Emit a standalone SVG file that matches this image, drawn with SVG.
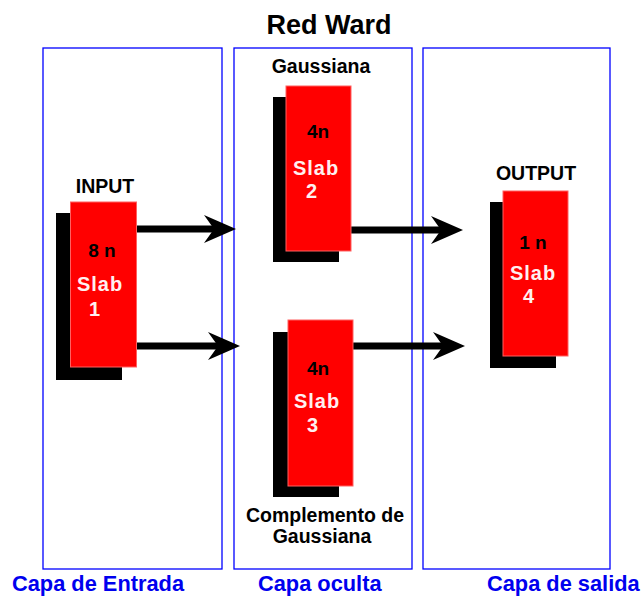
<svg xmlns="http://www.w3.org/2000/svg" width="642" height="597" viewBox="0 0 642 597">
<defs>
<style>
.panel{fill:none;stroke:#0000ff;stroke-width:1.3}
.shadow{fill:#000}
.slab{fill:#ff0000;stroke:#ff6060;stroke-width:1}
.lbl{font-family:"Liberation Sans",Arial,sans-serif;font-weight:bold;font-size:19.5px;fill:#000;text-anchor:middle}
.n{font-family:"Liberation Sans",Arial,sans-serif;font-weight:bold;font-size:19px;fill:#000;text-anchor:middle}
.sl{font-family:"Liberation Sans",Arial,sans-serif;font-weight:bold;font-size:20px;fill:#fff0f0;text-anchor:middle;letter-spacing:1px}
.cap{font-family:"Liberation Sans",Arial,sans-serif;font-weight:bold;font-size:21.8px;fill:#0000ee}
.title{font-family:"Liberation Sans",Arial,sans-serif;font-weight:bold;font-size:27px;fill:#000;text-anchor:middle}
.arrow{fill:none;stroke:#000;stroke-width:7;marker-end:url(#head)}
</style>
<marker id="head" markerUnits="userSpaceOnUse" viewBox="-33 -15 34 30" refX="-20" refY="0" markerWidth="34" markerHeight="30" orient="auto">
<path d="M0,0 L-32,-14 L-22,0 L-32,14 Z" fill="#000"/>
</marker>
</defs>
<rect width="642" height="597" fill="#fff"/>
<text class="title" x="329" y="34">Red Ward</text>
<g id="panels">
<rect class="panel" x="43" y="48" width="179" height="521"/>
<rect class="panel" x="234" y="48" width="178" height="521"/>
<rect class="panel" x="423" y="48" width="187" height="521"/>
</g>
<g id="connectors">
<path class="arrow" d="M136,229 H216"/>
<path class="arrow" d="M136,346 H220"/>
<path class="arrow" d="M351,230 H443"/>
<path class="arrow" d="M353,346 H445"/>
</g>
<g id="slab1">
<rect class="shadow" x="56" y="213" width="66" height="167"/>
<rect class="slab" x="70.5" y="202" width="66" height="165"/>
<text class="lbl" x="105" y="193">INPUT</text>
<text class="n" x="102" y="257">8 n</text>
<text class="sl" x="100" y="291">Slab</text>
<text class="sl" x="95" y="316">1</text>
</g>
<g id="slab2">
<rect class="shadow" x="273" y="97" width="66" height="165"/>
<rect class="slab" x="286" y="86" width="65" height="165"/>
<text class="lbl" x="321" y="73">Gaussiana</text>
<text class="n" x="318" y="138">4n</text>
<text class="sl" x="316" y="175">Slab</text>
<text class="sl" x="312" y="198">2</text>
</g>
<g id="slab3">
<rect class="shadow" x="273" y="332" width="66" height="165"/>
<rect class="slab" x="288" y="320" width="65" height="166"/>
<text class="n" x="318" y="375">4n</text>
<text class="sl" x="317" y="408">Slab</text>
<text class="sl" x="313" y="432">3</text>
<text class="lbl" x="325" y="522">Complemento de</text>
<text class="lbl" x="322" y="543">Gaussiana</text>
</g>
<g id="slab4">
<rect class="shadow" x="490" y="202" width="66" height="166"/>
<rect class="slab" x="503" y="191" width="65" height="165"/>
<text class="lbl" x="536" y="180">OUTPUT</text>
<text class="n" x="533" y="249">1 n</text>
<text class="sl" x="533" y="280">Slab</text>
<text class="sl" x="529" y="303">4</text>
</g>
<g id="captions">
<text class="cap" x="12" y="591">Capa de Entrada</text>
<text class="cap" x="258" y="591">Capa oculta</text>
<text class="cap" x="487" y="591">Capa de salida</text>
</g>
</svg>
